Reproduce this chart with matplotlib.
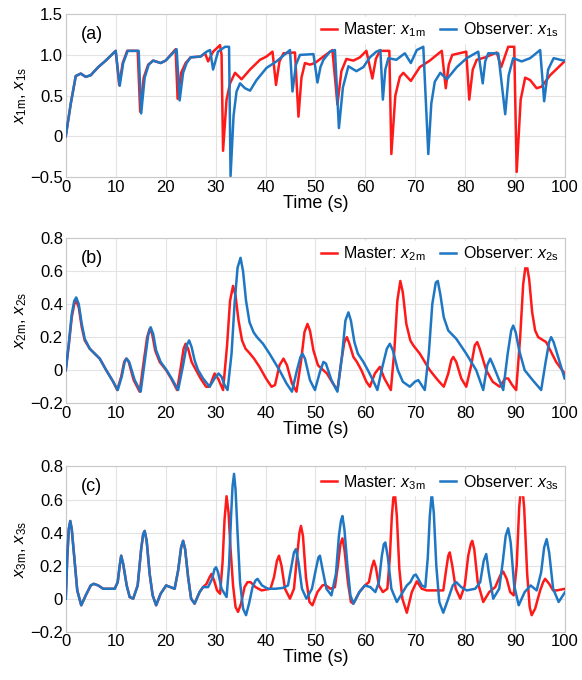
import matplotlib
matplotlib.use("Agg")
import matplotlib.pyplot as plt

plt.rcParams['font.family'] = ['Liberation Sans', 'DejaVu Sans']
plt.rcParams['mathtext.fontset'] = 'custom'
plt.rcParams['mathtext.rm'] = 'Liberation Sans'
plt.rcParams['mathtext.it'] = 'Liberation Sans:italic'

# values, as (time, value) pairs

# ---- panel (a): x1 ----
x1m = [(0, 0.0), (1, 0.4), (2, 0.74), (3, 0.77), (4, 0.73), (5, 0.75), (6.5, 0.85), (8, 0.93),
       (10, 1.05), (10.7, 0.63), (11.4, 0.9), (12.3, 1.05), (14.4, 1.05), (14.9, 0.30), (15.6, 0.72),
       (16.5, 0.88), (17.5, 0.93), (19, 0.9), (20, 0.93), (22, 1.07), (22.4, 0.46), (23.1, 0.78),
       (24, 0.9), (25, 0.97), (27, 0.98), (27.9, 1.02), (28.5, 0.92), (29.5, 1.04), (30.9, 1.12),
       (31.2, 1.0), (31.5, -0.18), (32.2, 0.45), (32.9, 0.65), (33.9, 0.78), (35.2, 0.7),
       (36.9, 0.82), (38.9, 0.94), (40.2, 0.98), (41.4, 1.04), (42.1, 0.63), (42.8, 0.92),
       (43.6, 1.02), (45.9, 1.03), (46.6, 0.24), (47.2, 0.72), (47.9, 0.9), (48.9, 0.88),
       (49.9, 0.9), (51.6, 0.98), (53.4, 1.06), (54.4, 0.39), (55.2, 0.8), (56.2, 0.95),
       (57.6, 0.93), (58.9, 0.97), (60.2, 1.05), (61.4, 0.71), (62.1, 0.95), (62.9, 1.05),
       (64.8, 1.05), (65.2, -0.22), (66.0, 0.5), (66.9, 0.73), (67.6, 0.78), (69.1, 0.68),
       (70.9, 0.85), (72.9, 0.93), (75.3, 1.05), (76.1, 0.59), (76.7, 0.88), (77.4, 1.0),
       (80.2, 1.04), (80.8, 0.45), (81.5, 0.82), (82.3, 0.94), (84.0, 0.97), (86.3, 1.03),
       (87.2, 0.85), (88.6, 1.1), (89.8, 1.1), (90.3, -0.44), (91.1, 0.45), (92.0, 0.72),
       (93.0, 0.69), (94.3, 0.59), (95.3, 0.61), (97.0, 0.75), (99.7, 0.91), (100, 0.93)]
x1s = [(0, 0.0), (1, 0.4), (2, 0.74), (3, 0.77), (4, 0.73), (5, 0.75), (6.5, 0.85), (8, 0.93),
       (10, 1.05), (10.8, 0.62), (11.5, 0.9), (12.4, 1.05), (14.6, 1.05), (15.1, 0.28), (15.8, 0.72),
       (16.6, 0.88), (17.5, 0.93), (19, 0.9), (20, 0.93), (22.2, 1.07), (22.8, 0.44), (23.5, 0.78),
       (24.2, 0.9), (25, 0.97), (27, 0.98), (28.2, 1.04), (28.9, 1.06), (29.5, 0.82), (30.5, 1.04),
       (31.9, 1.1), (32.7, 1.1), (33.0, -0.49), (33.6, 0.25), (34.2, 0.55), (34.9, 0.65),
       (35.9, 0.59), (36.9, 0.56), (38.2, 0.69), (40.2, 0.84), (42.2, 0.92), (44.9, 1.06),
       (45.4, 0.55), (46.1, 0.88), (46.9, 1.0), (49.6, 1.01), (50.4, 0.66), (51.0, 0.85),
       (51.6, 0.94), (52.9, 1.04), (53.9, 1.06), (54.7, 0.10), (55.5, 0.6), (56.6, 0.86),
       (58.2, 0.80), (59.6, 0.85), (60.9, 0.97), (62.2, 1.04), (63.0, 1.06), (63.5, 0.45),
       (64.0, 0.82), (64.6, 0.96), (66.2, 0.94), (67.9, 1.02), (69.1, 0.9), (70.3, 1.06),
       (71.6, 1.1), (72.6, -0.22), (73.2, 0.4), (73.9, 0.67), (75.0, 0.78), (76.3, 0.70),
       (78.3, 0.85), (80.3, 0.96), (82.6, 1.04), (83.5, 0.65), (84.0, 0.92), (84.6, 1.02),
       (86.6, 1.02), (88.0, 0.27), (88.7, 0.75), (89.6, 0.96), (91.3, 0.92), (93.0, 0.96),
       (95.0, 1.06), (95.8, 0.43), (96.6, 0.82), (97.7, 0.96), (99.7, 0.93), (100, 0.93)]

# ---- panel (b): x2 ----
x2m = [(0, 0.0), (0.6, 0.15), (1.2, 0.32), (1.7, 0.4), (2.1, 0.42), (2.6, 0.38), (3.2, 0.26),
       (3.8, 0.18), (4.8, 0.13), (5.8, 0.1), (6.8, 0.07), (8.1, 0.0), (9.5, -0.07), (10.3, -0.12),
       (11.1, -0.04), (11.7, 0.05), (12.1, 0.07), (12.6, 0.05), (13.6, -0.06), (14.8, -0.13),
       (15.6, 0.05), (16.3, 0.2), (16.8, 0.25), (17.3, 0.22), (17.9, 0.12), (18.8, 0.05),
       (20.1, 0.0), (21.1, -0.05), (22.3, -0.12), (23.1, 0.03), (23.6, 0.13), (24.0, 0.16),
       (24.5, 0.13), (25.2, 0.05), (26.1, 0.0), (27, -0.05), (28.1, -0.1), (28.8, -0.1),
       (29.8, -0.02), (30.5, -0.05), (31.5, -0.12), (32.3, 0.15), (32.9, 0.42), (33.5, 0.51),
       (34.0, 0.45), (34.6, 0.3), (35.3, 0.18), (36.0, 0.13), (36.9, 0.10), (37.7, 0.07),
       (38.8, 0.02), (40.1, -0.05), (41.2, -0.1), (41.9, -0.09), (42.8, 0.03), (43.6, 0.07),
       (44.3, 0.03), (45.3, -0.08), (46.2, -0.13), (47.1, 0.05), (47.8, 0.23), (48.4, 0.28),
       (48.9, 0.24), (49.6, 0.12), (50.5, 0.03), (52.3, -0.02), (53.5, -0.08), (54.4, -0.12),
       (55.2, 0.06), (55.8, 0.17), (56.3, 0.2), (56.8, 0.16), (57.6, 0.08), (58.3, 0.05),
       (59.2, 0.0), (60.2, -0.07), (60.9, -0.1), (61.9, -0.02), (62.9, 0.02), (63.8, -0.05),
       (65.1, -0.12), (65.8, 0.12), (66.4, 0.42), (67.0, 0.54), (67.5, 0.47), (68.2, 0.28),
       (69.0, 0.18), (69.6, 0.15), (70.9, 0.1), (72.9, 0.0), (74.5, -0.06), (75.7, -0.1),
       (76.6, -0.02), (77.2, 0.06), (77.6, 0.08), (78.2, 0.05), (79.2, -0.05), (80.2, -0.1),
       (81.2, 0.03), (81.9, 0.15), (82.4, 0.17), (82.9, 0.13), (84.2, 0.0), (85.5, -0.07),
       (86.9, -0.1), (88.0, -0.05), (88.6, -0.05), (89.4, -0.09), (90.2, -0.12), (91.0, 0.2),
       (91.6, 0.52), (92.2, 0.66), (92.8, 0.55), (93.4, 0.35), (94.0, 0.24), (94.6, 0.2),
       (96.2, 0.17), (97.2, 0.11), (98.2, 0.05), (99.9, -0.02)]
x2s = [(0, 0.0), (0.6, 0.16), (1.2, 0.34), (1.7, 0.42), (2.1, 0.44), (2.6, 0.4), (3.2, 0.28),
       (3.8, 0.19), (4.8, 0.13), (5.8, 0.1), (6.8, 0.07), (8.1, 0.0), (9.5, -0.07), (10.4, -0.12),
       (11.2, -0.04), (11.8, 0.05), (12.2, 0.07), (12.7, 0.05), (13.8, -0.06), (15.0, -0.13),
       (15.8, 0.05), (16.5, 0.21), (17.0, 0.26), (17.5, 0.22), (18.1, 0.12), (19.0, 0.05),
       (20.2, 0.0), (21.2, -0.05), (22.5, -0.12), (23.5, 0.03), (24.2, 0.15), (24.7, 0.18),
       (25.2, 0.14), (25.8, 0.06), (26.5, 0.0), (27.5, -0.05), (28.8, -0.1), (29.8, -0.05),
       (30.6, -0.02), (31.2, -0.04), (31.8, -0.09), (32.4, -0.12), (33.2, 0.1), (33.8, 0.4),
       (34.4, 0.62), (35.0, 0.68), (35.5, 0.6), (36.1, 0.42), (36.8, 0.29), (37.6, 0.23),
       (38.3, 0.2), (39.5, 0.16), (40.8, 0.1), (42.8, 0.0), (44.2, -0.08), (45.3, -0.13),
       (46.3, 0.0), (47.0, 0.08), (47.4, 0.1), (47.9, 0.07), (48.9, -0.06), (49.9, -0.12),
       (50.9, -0.01), (51.6, 0.05), (52.1, 0.04), (53.2, -0.06), (54.4, -0.13), (55.3, 0.08),
       (56.0, 0.3), (56.6, 0.35), (57.1, 0.3), (57.8, 0.17), (58.5, 0.1), (59.6, 0.05),
       (60.5, 0.0), (61.5, -0.06), (62.4, -0.12), (63.4, 0.02), (64.3, 0.13), (64.9, 0.16),
       (65.5, 0.12), (66.5, 0.0), (67.5, -0.07), (68.9, -0.1), (69.9, -0.07), (70.6, -0.06),
       (71.9, -0.12), (72.7, 0.1), (73.4, 0.4), (74.1, 0.53), (74.5, 0.54), (75.0, 0.46),
       (75.7, 0.32), (76.6, 0.24), (78.2, 0.19), (80.2, 0.1), (82.2, 0.0), (83.6, -0.12),
       (84.4, 0.03), (85.0, 0.07), (85.6, 0.03), (87.6, -0.12), (88.5, 0.1), (89.2, 0.24),
       (89.6, 0.27), (90.1, 0.23), (90.8, 0.12), (91.9, 0.0), (93.5, -0.06), (95.2, -0.12),
       (96.1, 0.05), (96.8, 0.17), (97.2, 0.2), (97.7, 0.17), (98.6, 0.08), (99.9, -0.05)]

# ---- panel (c): x3 ----
x3m = [(0, 0.0), (0.3, 0.25), (0.6, 0.42), (0.9, 0.47), (1.2, 0.42), (1.7, 0.25), (2.3, 0.05),
       (3.1, -0.04), (4.0, 0.02), (5.0, 0.08), (5.6, 0.09), (6.5, 0.08), (7.5, 0.06), (9.8, 0.06),
       (10.4, 0.1), (10.8, 0.2), (11.1, 0.26), (11.5, 0.21), (12.2, 0.08), (12.8, 0.01), (13.5, 0.0),
       (14.4, 0.08), (15.1, 0.3), (15.5, 0.39), (15.8, 0.41), (16.2, 0.35), (16.8, 0.15),
       (17.4, 0.02), (18.1, -0.04), (19.0, 0.03), (20.1, 0.08), (21.8, 0.06), (22.5, 0.17),
       (23.1, 0.31), (23.5, 0.35), (23.9, 0.3), (24.5, 0.13), (25.1, 0.0), (25.8, -0.03),
       (26.8, 0.04), (27.5, 0.07), (28.2, 0.09), (28.8, 0.13), (29.2, 0.15), (29.7, 0.11),
       (30.3, 0.05), (30.9, 0.03), (31.4, 0.22), (31.8, 0.48), (32.2, 0.62), (32.6, 0.52),
       (33.0, 0.3), (33.5, 0.08), (34.0, -0.05), (34.5, -0.08), (35.1, -0.03), (35.8, 0.07),
       (36.4, 0.1), (37.0, 0.1), (38.0, 0.07), (39.2, 0.05), (41.0, 0.06), (41.7, 0.13),
       (42.3, 0.23), (42.7, 0.26), (43.2, 0.2), (43.9, 0.06), (44.9, 0.0), (45.7, 0.06),
       (46.3, 0.25), (46.8, 0.4), (47.1, 0.44), (47.5, 0.38), (48.1, 0.13), (48.8, -0.02),
       (49.4, -0.04), (50.4, 0.04), (51.4, 0.08), (51.9, 0.085), (53.0, 0.06), (53.9, 0.07),
       (54.5, 0.2), (55.0, 0.33), (55.4, 0.365), (55.8, 0.3), (56.5, 0.1), (57.1, -0.02),
       (57.6, -0.03), (58.8, 0.04), (59.9, 0.08), (60.7, 0.1), (61.3, 0.19), (61.7, 0.23),
       (62.1, 0.19), (62.7, 0.08), (63.5, 0.04), (64.4, 0.06), (64.9, 0.25), (65.3, 0.5),
       (65.6, 0.61), (65.9, 0.64), (66.3, 0.5), (66.8, 0.18), (67.4, 0.0), (68.3, -0.085),
       (69.3, 0.04), (70.3, 0.105), (71.3, 0.06), (72.3, 0.05), (75.6, 0.05), (76.2, 0.18),
       (76.6, 0.26), (76.9, 0.28), (77.4, 0.2), (78.1, 0.06), (79.0, 0.0), (79.9, 0.08),
       (80.6, 0.26), (81.1, 0.33), (81.4, 0.35), (81.8, 0.3), (82.5, 0.1), (83.6, -0.02),
       (84.8, 0.04), (86.0, 0.07), (87.0, 0.14), (87.6, 0.164), (88.3, 0.12), (89.0, 0.04),
       (89.7, 0.02), (90.3, 0.2), (90.8, 0.55), (91.3, 0.72), (91.8, 0.55), (92.4, 0.15),
       (92.9, -0.05), (93.3, -0.1), (94.0, -0.06), (95.0, 0.05), (95.6, 0.1), (96.0, 0.12),
       (96.8, 0.09), (97.6, 0.05), (98.3, 0.05), (100, 0.06)]
x3s = [(0, 0.0), (0.3, 0.25), (0.6, 0.42), (0.9, 0.47), (1.2, 0.42), (1.7, 0.25), (2.3, 0.05),
       (3.1, -0.04), (4.0, 0.02), (5.0, 0.08), (5.6, 0.09), (6.5, 0.08), (7.5, 0.06), (9.8, 0.06),
       (10.4, 0.1), (10.8, 0.2), (11.1, 0.26), (11.5, 0.21), (12.2, 0.08), (12.8, 0.01), (13.5, 0.0),
       (14.4, 0.08), (15.1, 0.3), (15.5, 0.39), (15.8, 0.41), (16.2, 0.35), (16.8, 0.15),
       (17.4, 0.02), (18.1, -0.04), (19.0, 0.03), (20.1, 0.08), (21.8, 0.06), (22.5, 0.17),
       (23.1, 0.31), (23.5, 0.35), (23.9, 0.3), (24.5, 0.13), (25.1, 0.0), (25.8, -0.03),
       (26.8, 0.04), (27.5, 0.07), (28.5, 0.07), (29.3, 0.12), (29.8, 0.18), (30.1, 0.19),
       (30.5, 0.16), (31.2, 0.06), (32.2, 0.01), (32.7, 0.2), (33.1, 0.5), (33.4, 0.68),
       (33.7, 0.755), (34.0, 0.66), (34.4, 0.4), (34.9, 0.1), (35.5, -0.06), (36.1, -0.10),
       (36.7, -0.03), (37.4, 0.07), (38.0, 0.11), (38.4, 0.12), (39.3, 0.08), (40.5, 0.06),
       (42.0, 0.06), (43.5, 0.065), (44.5, 0.08), (45.1, 0.18), (45.7, 0.28), (46.1, 0.30),
       (46.6, 0.22), (47.3, 0.06), (48.2, 0.0), (49.3, 0.06), (50.1, 0.18), (50.6, 0.25),
       (50.9, 0.26), (51.4, 0.18), (52.2, 0.06), (53.2, 0.02), (54.1, 0.15), (54.7, 0.38),
       (55.1, 0.47), (55.4, 0.50), (55.8, 0.42), (56.4, 0.2), (57.0, 0.02), (57.6, -0.03),
       (58.8, 0.04), (59.9, 0.08), (61.0, 0.07), (62.0, 0.04), (62.7, 0.1), (63.3, 0.26),
       (63.7, 0.33), (64.0, 0.34), (64.5, 0.25), (65.2, 0.06), (66.3, -0.02), (67.5, 0.04),
       (68.3, 0.08), (69.0, 0.1), (69.7, 0.14), (70.1, 0.146), (70.6, 0.12), (71.3, 0.08),
       (72.0, 0.07), (72.5, 0.25), (72.9, 0.5), (73.3, 0.64), (73.7, 0.52), (74.2, 0.2),
       (74.8, -0.02), (75.6, -0.085), (76.6, 0.0), (77.5, 0.08), (78.2, 0.1), (79.2, 0.07),
       (80.3, 0.05), (82.0, 0.06), (83.0, 0.1), (83.7, 0.23), (84.2, 0.27), (84.7, 0.16),
       (85.6, 0.0), (86.8, 0.06), (87.5, 0.22), (88.1, 0.38), (88.6, 0.426), (89.1, 0.34),
       (89.8, 0.08), (90.7, -0.04), (91.9, 0.04), (93.1, 0.08), (94.3, 0.05), (95.2, 0.16),
       (95.8, 0.31), (96.3, 0.36), (96.8, 0.28), (97.6, 0.06), (98.7, -0.02), (100, 0.04)]

xticks = [0, 10, 20, 30, 40, 50, 60, 70, 80, 90, 100]
yticks_a = [-0.5, 0, 0.5, 1.0, 1.5]
ylabels_a = ['\u22120.5', '0', '0.5', '1.0', '1.5']
yticks_bc = [-0.2, 0, 0.2, 0.4, 0.6, 0.8]
ylabels_bc = ['\u22120.2', '0', '0.2', '0.4', '0.6', '0.8']

red = '#ff1a1a'
blue = '#1f77c4'

panels = [
    ('(a)', x1m, x1s, '1', (-0.5, 1.5), yticks_a, ylabels_a, [0.113, 0.740, 0.858, 0.239]),
    ('(b)', x2m, x2s, '2', (-0.2, 0.8), yticks_bc, ylabels_bc, [0.113, 0.407, 0.858, 0.243]),
    ('(c)', x3m, x3s, '3', (-0.2, 0.8), yticks_bc, ylabels_bc, [0.113, 0.071, 0.858, 0.243]),
]

fig = plt.figure(figsize=(5.82, 6.80), dpi=100)

for tag, master, observer, k, ylim, yt, yl, pos in panels:
    ax = fig.add_axes(pos)
    tm, xm = zip(*master)
    ts, xs = zip(*observer)
    ax.plot(tm, xm, color=red, lw=1.8, solid_joinstyle='round',
            label=r'Master: $x_{%s\mathrm{m}}$' % k, zorder=3)
    ax.plot(ts, xs, color=blue, lw=1.8, solid_joinstyle='round',
            label=r'Observer: $x_{%s\mathrm{s}}$' % k, zorder=4)
    ax.set_xlim(0, 100)
    ax.set_ylim(*ylim)
    ax.set_xticks(xticks)
    ax.set_yticks(yt)
    ax.set_yticklabels(yl)
    ax.tick_params(labelsize=12, length=0, pad=2)
    ax.grid(True, color='#e3e3e3', lw=0.8)
    ax.set_axisbelow(True)
    for s in ax.spines.values():
        s.set_color('#c8c8c8')
        s.set_linewidth(0.8)
    ax.set_xlabel('Time (s)', fontsize=13, labelpad=0)
    ax.set_ylabel(r'$x_{%s\mathrm{m}}$, $x_{%s\mathrm{s}}$' % (k, k), fontsize=12, labelpad=1)
    ax.text(0.03, 0.93, tag, transform=ax.transAxes, fontsize=13, va='top', ha='left')
    leg = ax.legend(loc='upper right', ncol=2, fontsize=11.5, handlelength=1.0,
                    handletextpad=0.4, columnspacing=0.9, borderaxespad=0.2,
                    frameon=True, fancybox=False, framealpha=1.0, edgecolor='white',
                    borderpad=0.2)
    leg.set_zorder(5)

fig.savefig('out.png', dpi=100)
